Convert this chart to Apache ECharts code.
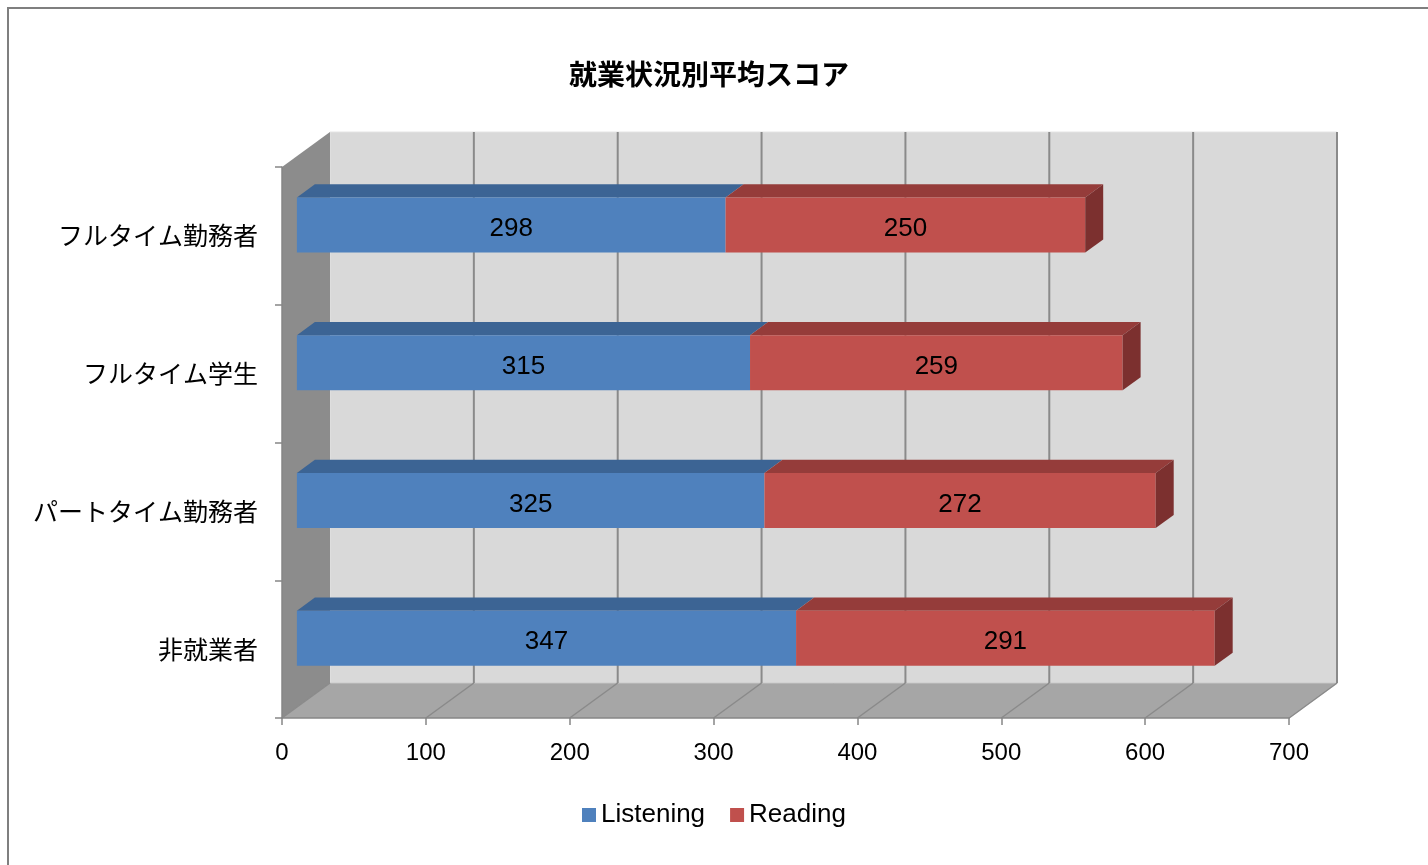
<!DOCTYPE html>
<html>
<head>
<meta charset="utf-8">
<script src="https://cdn.jsdelivr.net/npm/echarts@6/dist/echarts.min.js"></script>
<style>
html,body{margin:0;padding:0;background:#fff;}
#chart{width:1428px;height:865px;}
</style>
</head>
<body>
<div id="chart"></div>
<script>
// ---- data ----
const categories = ['フルタイム勤務者', 'フルタイム学生', 'パートタイム勤務者', '非就業者'];
const listening = [298, 315, 325, 347];
const reading = [250, 259, 272, 291];
const xTicks = [0, 100, 200, 300, 400, 500, 600, 700];
const seriesNames = ['Listening', 'Reading'];

// ---- styling / 3D depth ----
const DX = 48, DY = -35;      // depth vector of the box
const F = 0.31, B = 0.375;    // bar front offset and bar thickness (fractions of depth)
const FONT = '"Liberation Sans", Arial, "Noto Sans CJK JP", sans-serif';

const chart = echarts.init(document.getElementById('chart'), null, {renderer: 'canvas'});

function wallsRender(params, api) {
  const cs = params.coordSys;
  const x = cs.x, y = cs.y, w = cs.width, h = cs.height;
  return {
    type: 'group',
    children: [
      {type: 'rect', shape: {x: x + DX, y: y + DY, width: w, height: h},
       style: {fill: '#d9d9d9', stroke: '#e4e4e4', lineWidth: 1}},
      {type: 'polygon', shape: {points: [[x, y], [x + DX, y + DY], [x + DX, y + h + DY], [x, y + h]]},
       style: {fill: '#8c8c8c'}},
      {type: 'polygon', shape: {points: [[x, y + h], [x + DX, y + h + DY], [x + w + DX, y + h + DY], [x + w, y + h]]},
       style: {fill: '#a6a6a6'}},
      {type: 'line', shape: {x1: x + w, y1: y + h, x2: x + w + DX, y2: y + h + DY},
       style: {stroke: '#bdbdbd', lineWidth: 1.5}},
      {type: 'line', shape: {x1: x + DX, y1: y + h + DY, x2: x + w + DX, y2: y + h + DY},
       style: {stroke: '#c4c4c4', lineWidth: 1}}
    ]
  };
}

function gridRender(params, api) {
  const cs = params.coordSys;
  const v = api.value(0);
  const p = api.coord([v, 0]);
  const px = p[0];
  const top = cs.y, bot = cs.y + cs.height;
  const children = [
    {type: 'line', shape: {x1: px, y1: bot, x2: px + DX, y2: bot + DY},
     style: {stroke: '#8a8a8a', lineWidth: 1.5}}
  ];
  if (v !== 0) {
    children.push({type: 'line', shape: {x1: px + DX, y1: top + DY, x2: px + DX, y2: bot + DY},
      style: {stroke: '#8a8a8a', lineWidth: 2}});
  }
  return {type: 'group', children: children};
}

function makeBarRender(front, topc, side, showSide) {
  return function (params, api) {
    const i = api.value(0), s = api.value(1), e = api.value(2), val = api.value(3);
    const ps = api.coord([s, i]);
    const pe = api.coord([e, i]);
    const band = api.size([0, 1])[1];
    const bh = band * 0.4;
    const x0 = ps[0] + F * DX, x1 = pe[0] + F * DX;
    const yc = ps[1] + F * DY;
    const yt = yc - bh / 2, yb = yc + bh / 2;
    const bx = B * DX, by = B * DY;
    const children = [
      {type: 'polygon', shape: {points: [[x0, yt], [x1, yt], [x1 + bx, yt + by], [x0 + bx, yt + by]]},
       style: {fill: topc}},
      {type: 'rect', shape: {x: x0, y: yt, width: x1 - x0, height: bh}, style: {fill: front}}
    ];
    if (showSide) {
      children.push({type: 'polygon', shape: {points: [[x1, yt], [x1 + bx, yt + by], [x1 + bx, yb + by], [x1, yb]]},
        style: {fill: side}});
    }
    children.push({type: 'text', style: {text: String(val), x: (x0 + x1) / 2, y: yc + 4,
      align: 'center', verticalAlign: 'middle', fontSize: 26, fontFamily: FONT, fill: '#000'}});
    return {type: 'group', children: children};
  };
}

const listenData = listening.map((v, i) => [i, 0, v, v]);
const readData = reading.map((v, i) => [i, listening[i], listening[i] + v, v]);

const option = {
  backgroundColor: '#fff',
  animation: false,
  title: {
    text: '就業状況別平均スコア',
    left: 704, top: 55, textAlign: 'center',
    textStyle: {fontSize: 28, fontWeight: 'bold', color: '#000', fontFamily: '"Noto Sans CJK JP", sans-serif'}
  },
  legend: {
    data: seriesNames,
    left: 577, top: 797,
    icon: 'rect', itemWidth: 14, itemHeight: 14, itemGap: 25,
    textStyle: {fontSize: 26, color: '#000', fontFamily: FONT}
  },
  graphic: [
    {type: 'rect', shape: {x: 8, y: 8, width: 1500, height: 1000},
     style: {fill: 'none', stroke: '#7f7f7f', lineWidth: 2}, z: 100, silent: true}
  ],
  grid: {left: 282, top: 167, width: 1007, height: 551, containLabel: false},
  xAxis: {
    type: 'value', min: 0, max: 700, interval: 100, z: 10,
    axisLine: {show: true, lineStyle: {color: '#868686', width: 1.5}},
    axisTick: {show: true, length: 7, lineStyle: {color: '#868686', width: 1.5}},
    splitLine: {show: false},
    axisLabel: {fontSize: 24, color: '#000', margin: 23, fontFamily: FONT}
  },
  yAxis: {
    type: 'category', data: categories, inverse: true, z: 10,
    axisLine: {show: true, lineStyle: {color: '#868686', width: 1.5}},
    axisTick: {show: true, length: 7, lineStyle: {color: '#868686', width: 1.5}},
    axisLabel: {fontSize: 25, color: '#000', margin: 24, fontFamily: '"Noto Sans CJK JP", sans-serif'}
  },
  series: [
    {type: 'custom', name: 'walls', z: 1, silent: true, clip: false,
     data: [[0, 0]], renderItem: wallsRender},
    {type: 'custom', name: 'grid', z: 2, silent: true, clip: false,
     data: xTicks.map(v => [v, 0]), renderItem: gridRender},
    {type: 'custom', name: seriesNames[0], z: 3, clip: false,
     itemStyle: {color: '#4f81bd'},
     encode: {x: [1, 2], y: 0},
     data: listenData, renderItem: makeBarRender('#4f81bd', '#3c6494', '#2f4f76', false)},
    {type: 'custom', name: seriesNames[1], z: 4, clip: false,
     itemStyle: {color: '#c0504d'},
     encode: {x: [1, 2], y: 0},
     data: readData, renderItem: makeBarRender('#c0504d', '#953c3a', '#7c302f', true)}
  ]
};
chart.setOption(option);
</script>
</body>
</html>
